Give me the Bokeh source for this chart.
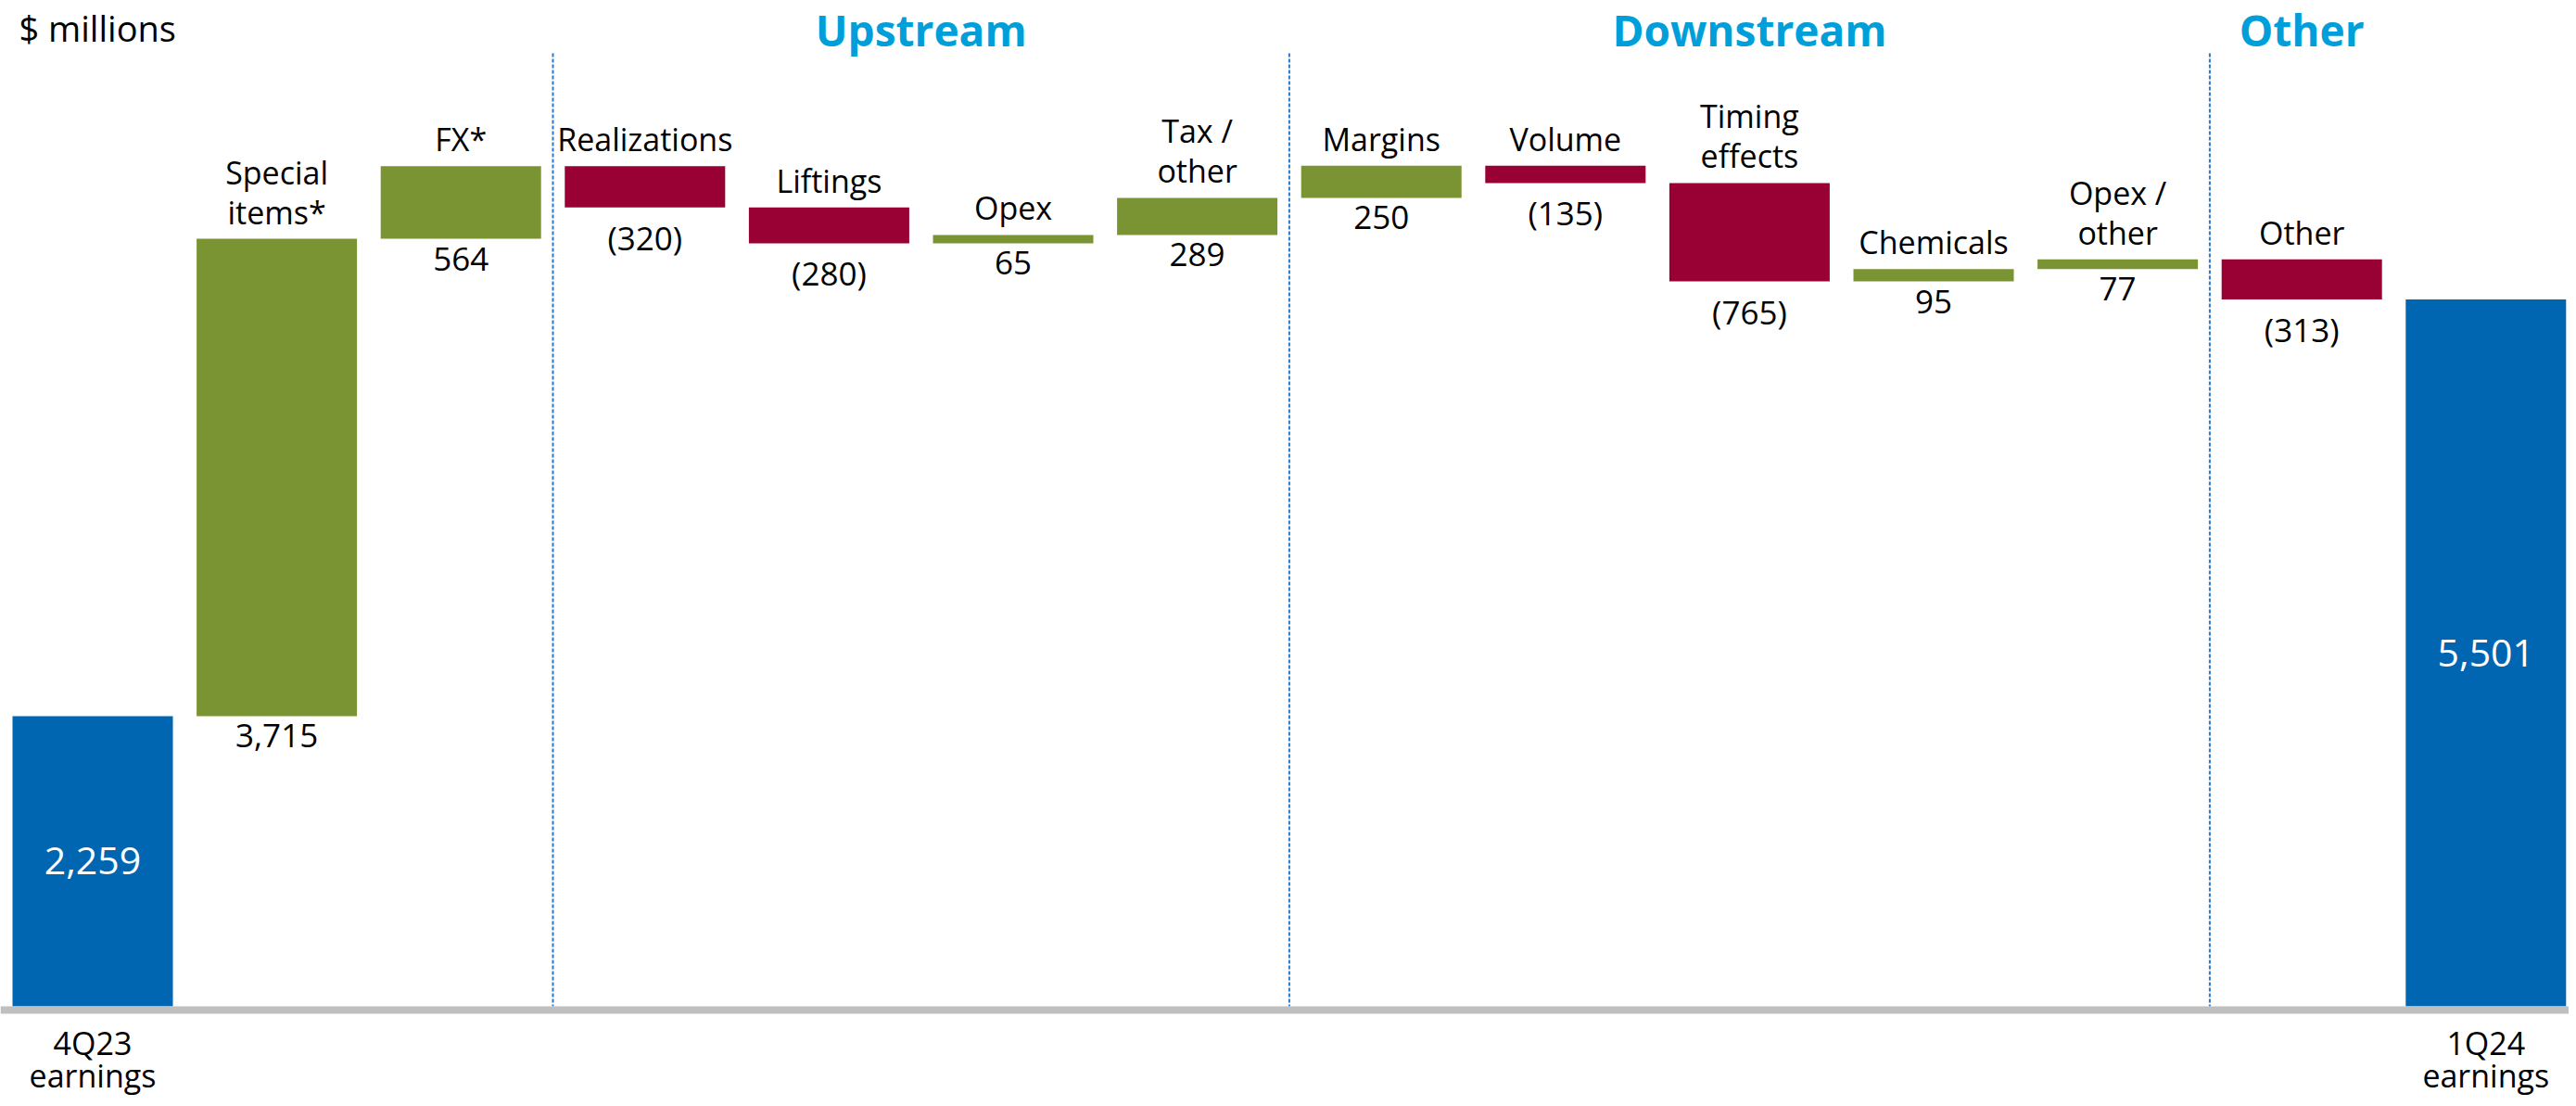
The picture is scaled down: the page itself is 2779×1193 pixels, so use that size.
from bokeh.plotting import figure
from bokeh.models import ColumnDataSource, Range1d, Span, Label
from bokeh.core.properties import value
from bokeh.embed import file_html
from bokeh.resources import INLINE

# ---------------- data ----------------
categories = ["4Q23\nearnings", "Special\nitems*", "FX*", "Realizations", "Liftings", "Opex",
              "Tax /\nother", "Margins", "Volume", "Timing\neffects", "Chemicals",
              "Opex /\nother", "Other", "1Q24\nearnings"]
values = [2259, 3715, 564, -320, -280, 65, 289, 250, -135, -765, 95, 77, -313, 5501]
is_total = [True] + [False] * 12 + [True]
group_names = ["Upstream", "Downstream", "Other"]
group_first = [3, 7, 12]
group_last = [6, 11, 12]
unit_label = "$ millions"

# ---------------- styles / layout ----------------
W, H = 2771, 1185
BASE_REF = 1085              # baseline pixel
PX_PER_UNIT = 0.1386
PITCH = 198.6
FIRST_CENTER = 99.5
BAR_W = 173 / PITCH
BLUE, GREEN, RED = "#0066B2", "#7A9433", "#990033"
TITLE_COLOR = "#009FDA"
DIV_COLOR = "#2B78C4"
FONT = "Open Sans"
LABEL_PX = 34
LINE_GAP_TOP = 43     # line spacing of labels above bars
LINE_GAP_AXIS = 35    # line spacing of labels under the axis


def ry(px_y):
    return (BASE_REF - px_y) / PX_PER_UNIT


def fmt(v):
    s = f"{abs(v):,}"
    return f"({s})" if v < 0 else s


p = figure(width=W, height=H, output_backend="svg", toolbar_location=None,
           x_range=Range1d(-FIRST_CENTER / PITCH, (W - FIRST_CENTER) / PITCH),
           y_range=Range1d(ry(H), ry(0)),
           min_border=0, outline_line_color=None, background_fill_color="white",
           border_fill_color="white")
p.axis.visible = False
p.grid.visible = False

# waterfall computation
xs, bottoms, tops, colors = [], [], [], []
run = 0
for i, (v, t) in enumerate(zip(values, is_total)):
    xs.append(i)
    if t:
        bottoms.append(0)
        tops.append(v)
        colors.append(BLUE)
        run = v
    else:
        b, e = run, run + v
        bottoms.append(min(b, e))
        tops.append(max(b, e))
        colors.append(GREEN if v >= 0 else RED)
        run = e

src = ColumnDataSource(dict(x=xs, bottom=bottoms, top=tops, color=colors))
p.vbar(x="x", width=BAR_W, bottom="bottom", top="top", fill_color="color",
       line_color=None, source=src)

# baseline
p.add_layout(Span(location=ry(1089), dimension="width", line_color="#BFBFBF", line_width=8))

# dividers between groups
div_x = [g - 0.5 for g in group_first]
p.segment(x0=div_x, x1=div_x, y0=[ry(57)] * 3, y1=[ry(1085)] * 3,
          line_color=DIV_COLOR, line_width=2, line_dash="4 2")

# group titles
title_x = [(a + b) / 2 for a, b in zip(group_first, group_last)]
p.text(x=title_x, y=[ry(62)] * 3, text=group_names, text_align="center",
       text_baseline="bottom", text_font=value(FONT), text_font_style="bold",
       text_font_size="46px", text_color=TITLE_COLOR)

# category labels above floating bars (one glyph row per line)
cx, cy, ct, co = [], [], [], []
for i, t in enumerate(is_total):
    if t:
        continue
    lines = categories[i].split("\n")
    n = len(lines)
    for k, ln in enumerate(lines):
        cx.append(i)
        cy.append(tops[i])
        ct.append(ln)
        co.append(-6 - (n - 1 - k) * LINE_GAP_TOP)
p.text(x=cx, y=cy, text=ct, y_offset=co, text_align="center", text_baseline="bottom",
       text_font=value(FONT), text_font_size=f"{LABEL_PX}px", text_color="black")

# value labels under floating bars
fi = [i for i, t in enumerate(is_total) if not t]
p.text(x=fi, y=[bottoms[i] for i in fi], text=[fmt(values[i]) for i in fi],
       text_align="center", text_baseline="top", y_offset=9,
       text_font=value(FONT), text_font_size="35px", text_color="black")

# totals: value inside bar, category below the axis
ti = [i for i, t in enumerate(is_total) if t]
p.text(x=ti, y=[values[i] / 2 for i in ti], text=[fmt(values[i]) for i in ti],
       text_align="center", text_baseline="middle", text_font=value(FONT),
       text_font_size="41px", text_color="white")
ax, ay, at, ao = [], [], [], []
for i in ti:
    for k, ln in enumerate(categories[i].split("\n")):
        ax.append(i)
        ay.append(ry(1147))
        at.append(ln)
        ao.append(k * LINE_GAP_AXIS)
p.text(x=ax, y=ay, text=at, y_offset=ao, text_align="center", text_baseline="bottom",
       text_font=value(FONT), text_font_size=f"{LABEL_PX}px", text_color="black")

p.add_layout(Label(x=20, y=H - 55, x_units="screen", y_units="screen", text=unit_label,
                   text_baseline="bottom", text_font=FONT, text_font_size="38px",
                   text_color="black"))

open("out.html", "w").write(file_html(p, INLINE))
